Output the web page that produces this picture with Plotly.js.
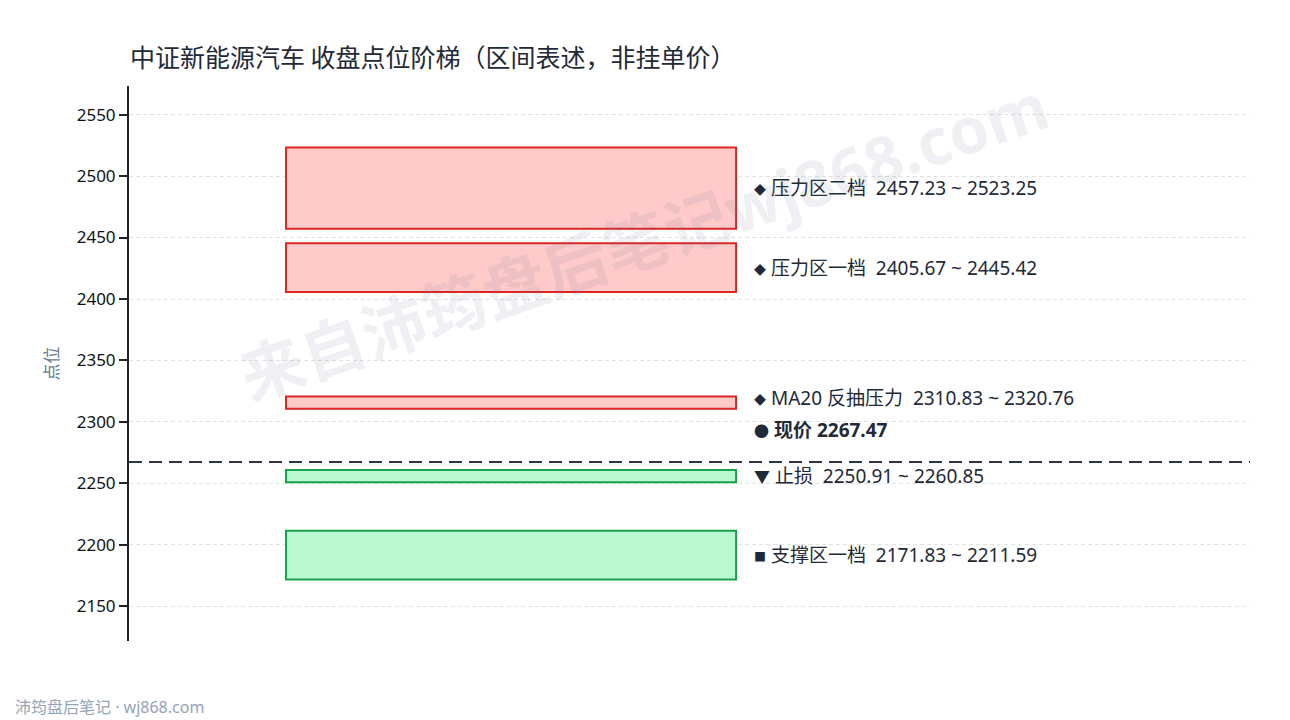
<!DOCTYPE html>
<html>
<head>
<meta charset="utf-8">
<script src="https://cdn.plot.ly/plotly-3.0.1.min.js"></script>
<style>
	body { margin: 0; background: #ffffff; }
	#chart { width: 1290px; height: 720px; }
</style>
</head>
<body>
<div id="chart"></div>
<script>
// zones (low / high of each band)
var zoneNames = ["压力区二档", "压力区一档", "MA20 反抽压力", "止损", "支撑区一档"];
var zoneLow = [2457.23, 2405.67, 2310.83, 2250.91, 2171.83];
var zoneHigh = [2523.25, 2445.42, 2320.76, 2260.85, 2211.59];
var zoneIcons = ["◆", "◆", "◆", "▼", "■"];
var zoneKind = ["resist", "resist", "resist", "support", "support"];
var currentPrice = 2267.47;
var yTicks = [2150, 2200, 2250, 2300, 2350, 2400, 2450, 2500, 2550];

var fillColor = { resist: "#fecaca", support: "#bbf7d0" };
var lineColor = { resist: "#dc2626", support: "#16a34a" };
var iconSize = { "◆": 12, "▼": 16, "■": 12 };

var FONT = "Noto Sans, Noto Sans CJK SC, sans-serif";
var CJK = "Noto Sans CJK SC, Noto Sans, sans-serif";

var bandX = 0.3408;
var bandW = 0.4015;
var labelX = 0.556;

var bands = {
	type: "bar",
	x: zoneNames.map(function(){ return bandX; }),
	width: zoneNames.map(function(){ return bandW; }),
	base: zoneLow,
	y: zoneHigh.map(function(h, i){ return h - zoneLow[i]; }),
	marker: {
		color: zoneKind.map(function(k){ return fillColor[k]; }),
		line: {
			color: zoneKind.map(function(k){ return lineColor[k]; }),
			width: 2
		}
	},
	hoverinfo: "skip",
	showlegend: false
};

var annotations = [];
for (var i = 0; i < zoneNames.length; i++){
	var icon = '<span style="font-size:' + iconSize[zoneIcons[i]] + 'px">' + zoneIcons[i] + '</span>';
	annotations.push({
		xref: "x", yref: "y",
		x: labelX,
		y: (zoneLow[i] + zoneHigh[i]) / 2,
		yshift: zoneNames[i] == "MA20 反抽压力" ? 5 : 0,
		xanchor: "left", yanchor: "middle",
		showarrow: false,
		text: icon + " " + zoneNames[i] + "&nbsp;&nbsp;" + zoneLow[i].toFixed(2) + " ~ " + zoneHigh[i].toFixed(2),
		font: { family: FONT, size: 19, color: "#1f2937" }
	});
}

// current price label
annotations.push({
	xref: "x", yref: "y",
	x: labelX, y: currentPrice,
	yshift: 32,
	xanchor: "left", yanchor: "middle",
	showarrow: false,
	text: '<b><span style="font-size:15px">●</span> 现价 ' + currentPrice.toFixed(2) + "</b>",
	font: { family: FONT, size: 19, color: "#1f2937" }
});

// watermark
annotations.push({
	xref: "paper", yref: "paper",
	x: 0.459, y: 1.05,
	showarrow: false,
	textangle: -19,
	text: "<b>来自沛筠盘后笔记wj868.com</b>",
	font: { family: FONT, size: 64, color: "rgba(100,116,150,0.11)" }
});

// footer
annotations.push({
	xref: "paper", yref: "paper",
	x: -0.1035, y: -0.119,
	xanchor: "left", yanchor: "middle",
	showarrow: false,
	text: "沛筠盘后笔记 · wj868.com",
	font: { family: FONT, size: 16, color: "#94a3b8" }
});

var layout = {
	width: 1290,
	height: 720,
	paper_bgcolor: "#ffffff",
	plot_bgcolor: "#ffffff",
	margin: { l: 129, r: 40, t: 86, b: 79 },
	showlegend: false,
	bargap: 0,
	title: {
		text: "中证新能源汽车 收盘点位阶梯（区间表述，非挂单价）",
		font: { family: CJK, size: 25, color: "#1f2937" },
		x: 130 / 1290, xanchor: "left", xref: "container",
		y: 1 - 58 / 720, yanchor: "middle", yref: "container"
	},
	xaxis: {
		range: [0, 1],
		showgrid: false,
		zeroline: false,
		showticklabels: false,
		showline: false,
		ticks: "",
		fixedrange: true
	},
	yaxis: {
		range: [2121.83, 2573.25],
		tickvals: yTicks,
		ticktext: yTicks.map(String),
		ticks: "outside",
		ticklen: 8,
		tickwidth: 2,
		tickcolor: "#222222",
		showline: true,
		linecolor: "#222222",
		linewidth: 2,
		showgrid: true,
		gridcolor: "#e2e2e2",
		griddash: "4px,3px",
		gridwidth: 1,
		zeroline: false,
		tickfont: { family: FONT, size: 17, color: "#111111" },
		title: {
			text: "点位",
			font: { family: CJK, size: 17, color: "#6b7a90" },
			standoff: 14
		}
	},
	shapes: [{
		type: "line",
		xref: "paper", yref: "y",
		x0: 0, x1: 1,
		y0: currentPrice, y1: currentPrice,
		line: { color: "#2d3748", width: 2, dash: "13px,7px" }
	}],
	annotations: annotations
};

Plotly.newPlot("chart", [bands], layout, { displayModeBar: false, staticPlot: true });
</script>
</body>
</html>
